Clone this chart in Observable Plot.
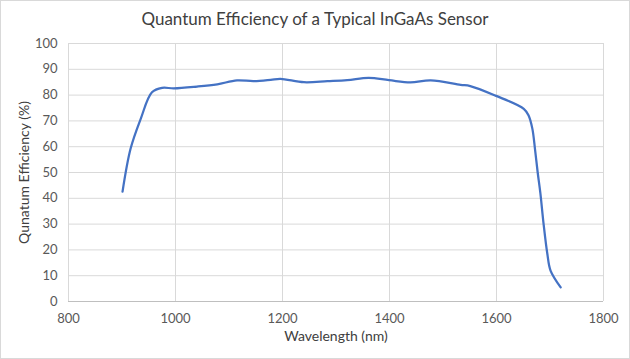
<!DOCTYPE html>
<html>
<head>
<meta charset="utf-8">
<script src="https://cdn.jsdelivr.net/npm/d3@7"></script>
<script src="https://cdn.jsdelivr.net/npm/@observablehq/plot@0.6"></script>
<style>
  html, body { margin: 0; padding: 0; background: #fff; }
  #chart { position: relative; width: 630px; height: 359px; box-sizing: border-box; border: 1px solid #d9d9d9; background: #fff; font-family: Lato, "Open Sans", sans-serif; }
  #title { height: 34px; line-height: 36px; text-align: center; font-size: 17px; color: #404040; }
  svg { display: block; }
</style>
</head>
<body>
<div id="chart">
  <div id="title">Quantum Efficiency of a Typical InGaAs Sensor</div>
</div>
<script>
const wavelength = [901, 916, 935, 956, 975, 997, 1040, 1078, 1115, 1146, 1178, 1196, 1240, 1284, 1321, 1361, 1399, 1439, 1477, 1533, 1551, 1598, 1651, 1660, 1667, 1672, 1677, 1682, 1688, 1695, 1701, 1720];
const efficiency = [42.6, 59.2, 70.8, 81.1, 82.8, 82.6, 83.3, 84.2, 85.7, 85.4, 85.9, 86.3, 85.0, 85.4, 85.8, 86.7, 85.8, 84.9, 85.7, 84.0, 83.5, 79.8, 74.7, 72.1, 67.0, 59.0, 50.0, 42.0, 30.1, 18.5, 12.0, 5.5];
const xTicks = [800, 1000, 1200, 1400, 1600, 1800];
const yTicks = [0, 10, 20, 30, 40, 50, 60, 70, 80, 90, 100];

const data = wavelength.map((w, i) => ({w, e: efficiency[i]}));

const chart = Plot.plot({
  width: 628,
  height: 323,
  marginLeft: 67,
  marginRight: 26,
  marginTop: 8,
  marginBottom: 57,
  style: {fontFamily: "Lato, 'Open Sans', sans-serif", fontSize: "13px", color: "#595959", background: "#fff"},
  x: {domain: [800, 1800]},
  y: {domain: [0, 100]},
  marks: [
    Plot.gridX(xTicks, {stroke: "#d9d9d9", strokeOpacity: 1, strokeWidth: 1}),
    Plot.gridY(yTicks, {stroke: "#d9d9d9", strokeOpacity: 1, strokeWidth: 1}),
    Plot.ruleY([0], {stroke: "#bfbfbf", strokeWidth: 1}),
    Plot.axisX(xTicks, {tickSize: 0, tickPadding: 12, label: null, tickFormat: d => String(d), fill: "#595959", fontSize: 13}),
    Plot.axisY(yTicks, {tickSize: 0, tickPadding: 11, label: null, tickFormat: d => String(d), fill: "#595959", fontSize: 13}),
    Plot.text(["Wavelength (nm)"], {frameAnchor: "bottom", dy: 39, fill: "#404040", fontSize: 14}),
    Plot.text(["Qunatum Efficiency (%)"], {frameAnchor: "left", dx: -44, rotate: -90, textAnchor: "middle", fill: "#404040", fontSize: 14}),
    Plot.line(data, {x: "w", y: "e", stroke: "#4472c4", strokeWidth: 2.25, curve: "catmull-rom"})
  ]
});
document.getElementById("chart").appendChild(chart);
</script>
</body>
</html>
